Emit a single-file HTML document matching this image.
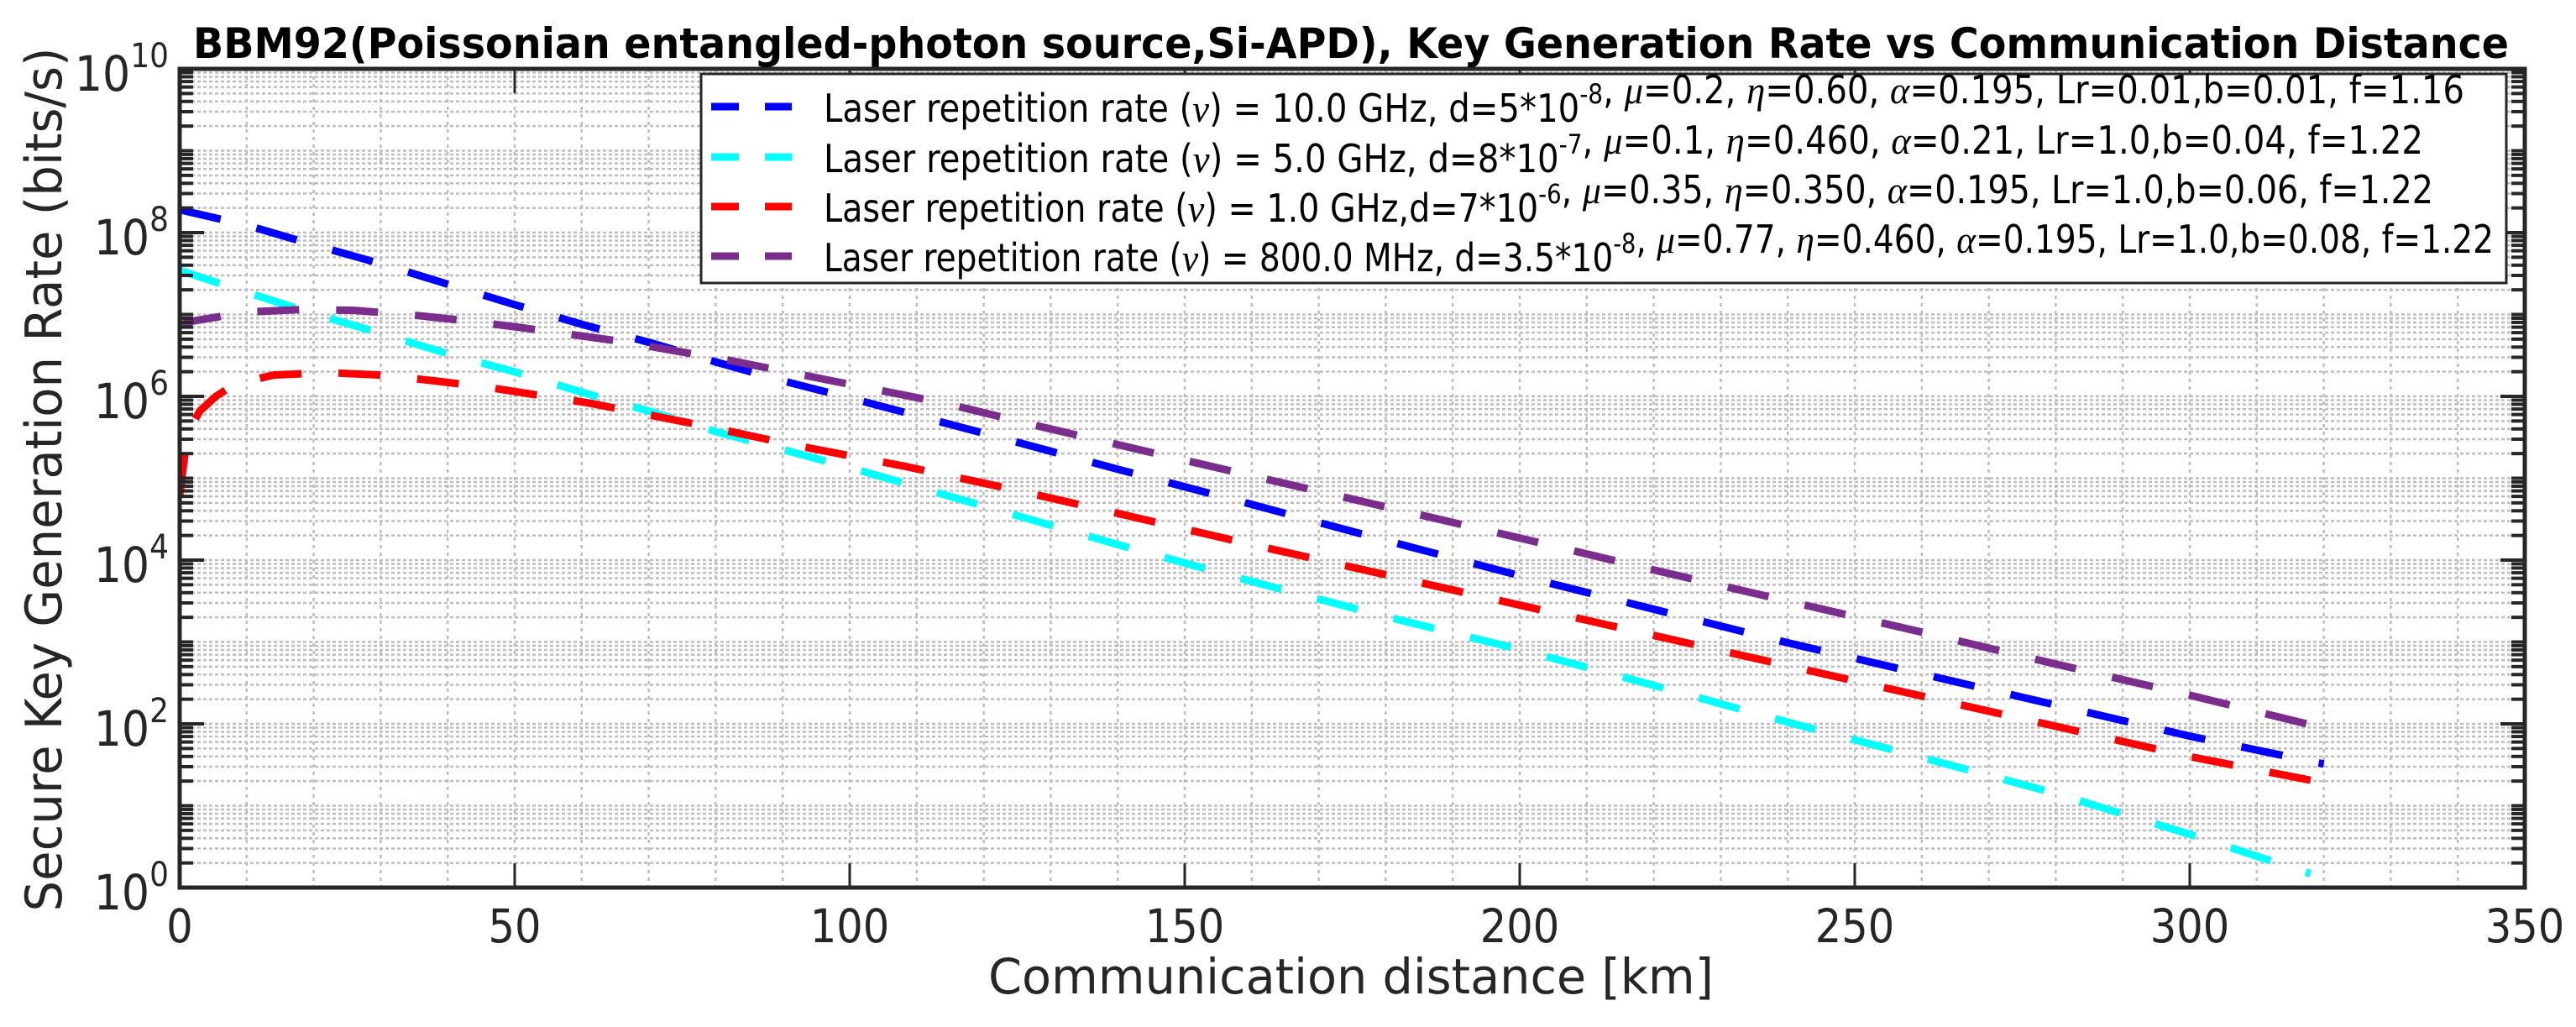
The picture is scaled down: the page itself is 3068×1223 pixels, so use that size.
<!DOCTYPE html>
<html><head><meta charset="utf-8">
<style>
html,body{margin:0;padding:0;background:#fff;}
svg{display:block;}
text{font-family:"DejaVu Sans Condensed","DejaVu Sans","Liberation Sans",sans-serif;font-stretch:condensed;}
</style></head>
<body>
<svg id="chart" width="3068" height="1223" viewBox="0 0 3068 1223" xmlns="http://www.w3.org/2000/svg">
  <rect x="0" y="0" width="3068" height="1223" fill="#fff"/>
  <defs><clipPath id="plotclip"><rect x="214" y="82" width="2793" height="975"/></clipPath></defs>
  <g id="grid"></g>
  <g id="series" clip-path="url(#plotclip)"></g>
  <g id="axes"></g>
  <text x="1609" y="69" text-anchor="middle" font-size="50" font-weight="bold" fill="#000" textLength="2758" lengthAdjust="spacingAndGlyphs">BBM92(Poissonian entangled-photon source,Si-APD), Key Generation Rate vs Communication Distance</text>
  <text x="1609" y="1183" text-anchor="middle" font-size="58" fill="#262626" textLength="864" lengthAdjust="spacingAndGlyphs">Communication distance [km]</text>
  <text transform="translate(73,571) rotate(-90)" text-anchor="middle" font-size="60" fill="#262626" textLength="1029" lengthAdjust="spacingAndGlyphs">Secure Key Generation Rate (bits/s)</text>
  <g id="legend">
    <rect x="835" y="88" width="2150" height="249" fill="#fff" stroke="#262626" stroke-width="3"/>
  </g>
</svg>
<script>
// ---- data ----
const xTicks = [0, 50, 100, 150, 200, 250, 300, 350];
const yTickExps = [0, 2, 4, 6, 8, 10];
const seriesNames = ["10.0 GHz", "5.0 GHz", "1.0 GHz", "800.0 MHz"];
const seriesColors = ["#0000ff", "#00ffff", "#ff0000", "#7b2d8e"];
// distances (km) and log10(rate bits/s)
const blueDist = [0,10,20,30,40,50,60,70,80,90,100,120,140,160,180,200,220,240,260,280,300,320];
const blueLog  = [8.28,8.09,7.85,7.62,7.37,7.12,6.88,6.66,6.42,6.19,5.98,5.55,5.11,4.68,4.24,3.81,3.40,2.99,2.61,2.23,1.85,1.51];
const cyanDist = [0,10,20,30,40,50,60,70,80,90,100,120,140,160,180,200,220,240,260,280,300,318];
const cyanLog  = [7.54,7.27,7.01,6.77,6.52,6.30,6.05,5.82,5.57,5.35,5.13,4.66,4.19,3.74,3.31,2.91,2.47,2.02,1.59,1.15,0.65,0.17];
const redDist  = [0,0.7,1.4,3,5.4,8.3,14,22,30,38,46,61,77,92,108,124,140,160,180,200,220,240,260,280,300,320];
const redLog   = [4.79,5.25,5.58,5.82,6.0,6.15,6.26,6.29,6.26,6.19,6.11,5.92,5.66,5.40,5.15,4.87,4.57,4.19,3.82,3.45,3.08,2.71,2.34,1.97,1.60,1.28];
const purpDist = [0,2,10,18,26,34,42,50,66,82,98,114,128,140,160,180,200,220,240,260,280,300,318];
const purpLog  = [6.87,6.92,7.03,7.06,7.05,7.00,6.93,6.85,6.67,6.44,6.18,5.92,5.64,5.41,5.03,4.65,4.27,3.88,3.50,3.12,2.73,2.35,1.99];

// ---- axes functions ----
const L=214,R=3007,T=82,B=1057;
const xMin=0,xMax=350,yMinExp=0,yMaxExp=10;
function xs(d){return L+(d-xMin)/(xMax-xMin)*(R-L);}
function ys(lg){return B-(lg-yMinExp)/(yMaxExp-yMinExp)*(B-T);}
const NS="http://www.w3.org/2000/svg";
function mk(tag,attrs,parent){const e=document.createElementNS(NS,tag);for(const k in attrs)e.setAttribute(k,attrs[k]);parent.appendChild(e);return e;}

const grid=document.getElementById('grid');
const axes=document.getElementById('axes');
for(let d=10; d<xMax; d+=10){
  const g=mk('line',{x1:xs(d),x2:xs(d),y1:T,y2:B,stroke:'#bdbdbd','stroke-width':2.5,'stroke-dasharray':'4 5'},grid);
  
  
}
for(let e=yMinExp;e<yMaxExp;e++){
  for(let m=1;m<=9;m++){
    const lg=e+Math.log10(m);
    if(lg<=yMinExp) continue;
    const yy=ys(lg);
    const g=mk('line',{x1:L,x2:R,y1:yy,y2:yy,stroke:'#bdbdbd','stroke-width':2.5,'stroke-dasharray':'4 3'},grid);
    
    
    const major=(m===1 && e%2===0);
    const len=major?29:16;
    const t1=mk('line',{x1:L,x2:L+len,y1:yy,y2:yy,stroke:'#262626','stroke-width':4},axes);
    
    
    const t2=mk('line',{x1:R,x2:R-len,y1:yy,y2:yy,stroke:'#262626','stroke-width':4},axes);
    
    
  }
}
const dists=[blueDist,cyanDist,redDist,purpDist];
const logs=[blueLog,cyanLog,redLog,purpLog];
const sg=document.getElementById('series');
for(let s=0;s<4;s++){
  const pts=dists[s].map((d,i)=>xs(d).toFixed(1)+','+ys(logs[s][i]).toFixed(1)).join(' ');
  const p=mk('polyline',{points:pts,fill:'none',stroke:seriesColors[s],'stroke-width':9,'stroke-dasharray':'50 44'},sg);
  
  
}
const box=mk('rect',{x:L,y:T,width:R-L,height:B-T,fill:'none',stroke:'#262626','stroke-width':5},axes);


xTicks.forEach(d=>{
  const x=xs(d);
  const a=mk('line',{x1:x,x2:x,y1:B,y2:B-29,stroke:'#262626','stroke-width':3},axes);
  
  
  const b=mk('line',{x1:x,x2:x,y1:T,y2:T+29,stroke:'#262626','stroke-width':3},axes);
  
  
  const t=mk('text',{x:x,y:1122,'text-anchor':'middle','font-size':55,fill:'#262626'},axes);
  t.textContent=String(d);
  
  
});
yTickExps.forEach(e=>{
  const y=ys(e);
  const t=mk('text',{x:201,y:y+26,'text-anchor':'end','font-size':58,fill:'#262626'},axes);
  
  
  const a=document.createElementNS(NS,'tspan');a.textContent='10';t.appendChild(a);
  const b=document.createElementNS(NS,'tspan');b.setAttribute('dy','-28');b.setAttribute('font-size','40');b.textContent=String(e);t.appendChild(b);
});
const legendRows=[
  {y:127,w:1954,parts:[["Laser repetition rate (",0],["ν",1],[") = 10.0 GHz, d=5*10",0],["-8",2],[", ",0],["μ",1],["=0.2, ",0],["η",1],["=0.60, ",0],["α",1],["=0.195, Lr=0.01,b=0.01, f=1.16",0]]},
  {y:187,w:1905,parts:[["Laser repetition rate (",0],["ν",1],[") = 5.0 GHz, d=8*10",0],["-7",2],[", ",0],["μ",1],["=0.1, ",0],["η",1],["=0.460, ",0],["α",1],["=0.21, Lr=1.0,b=0.04, f=1.22",0]]},
  {y:246,w:1917,parts:[["Laser repetition rate (",0],["ν",1],[") = 1.0 GHz,d=7*10",0],["-6",2],[", ",0],["μ",1],["=0.35, ",0],["η",1],["=0.350, ",0],["α",1],["=0.195, Lr=1.0,b=0.06, f=1.22",0]]},
  {y:305,w:1989,parts:[["Laser repetition rate (",0],["ν",1],[") = 800.0 MHz, d=3.5*10",0],["-8",2],[", ",0],["μ",1],["=0.77, ",0],["η",1],["=0.460, ",0],["α",1],["=0.195, Lr=1.0,b=0.08, f=1.22",0]]}
];
const lg=document.getElementById('legend');
legendRows.forEach((r,i)=>{
  const ln=mk('line',{x1:847,x2:943,y1:r.y,y2:r.y,stroke:seriesColors[i],'stroke-width':9,'stroke-dasharray':'33 31'},lg);
  
  
  const t=mk('text',{x:981,y:r.y+18,'font-size':46,fill:'#000',textLength:r.w,lengthAdjust:'spacingAndGlyphs'},lg);
  
  
  r.parts.forEach(p=>{
    const s=document.createElementNS(NS,'tspan');
    s.textContent=p[0];
    if(p[1]===1){s.setAttribute('font-style','italic');s.setAttribute('font-family','"Liberation Serif",serif');}
    if(p[1]===2){s.setAttribute('font-size','32');s.setAttribute('dy','-22');}
    t.appendChild(s);
    if(p[1]===2){const z=document.createElementNS(NS,'tspan');z.setAttribute('dy','22');z.textContent='';t.appendChild(z);}
  });
});
</script>
</body></html>
